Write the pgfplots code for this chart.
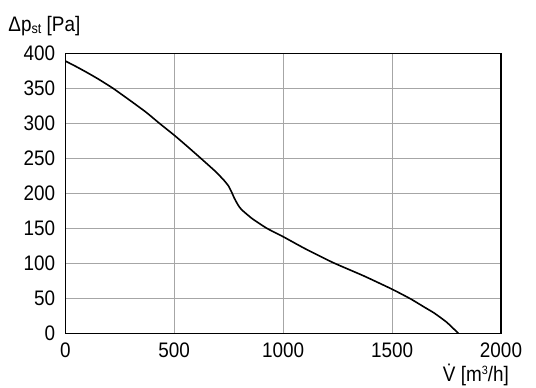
\documentclass[border=0pt]{standalone}
\usepackage{fontspec}
\setmainfont{Liberation Sans}[FakeStretch=0.9]
\usepackage{pgfplots}
\pgfplotsset{compat=1.18}
\begin{document}
\begin{tikzpicture}[font=\fontsize{21}{24}\selectfont]
\begin{axis}[
  scale only axis,
  width=435.7pt, height=280pt,
  xmin=0, xmax=2000, ymin=0, ymax=400,
  xtick={0,500,1000,1500,2000},
  ytick={0,50,100,150,200,250,300,350,400},
  major tick length=0pt,
  grid=major,
  major grid style={gray!70, line width=0.8pt},
  axis line style={black, line width=1.5pt},
  /pgf/number format/assume math mode=true,
  /pgf/number format/1000 sep={},
  ticklabel style={font=\fontsize{21}{24}\selectfont},
  xticklabel style={inner sep=0pt, anchor=north, yshift=-9pt},
  yticklabel style={inner sep=0pt, anchor=east, xshift=-10pt},
]
\addplot[black, line width=1.6pt, smooth, tension=0.3] coordinates {
(0,389) (50,381) (100,372.5) (150,363.5) (219,350) (300,332) (370,316) (432,300) (500,283) (560,267) (622,250)
(690,231) (730,218) (750,210) (766,200) (776,193) (788,186) (800,180) (815,175) (857,164)
(925,150) (1000,138) (1100,121) (1229,101) (1370,82) (1500,63) (1586,49)
(1650,37) (1693,29) (1750,16) (1804,0)
};
\end{axis}
\node[anchor=base west, inner sep=0pt] at ([shift={(-57pt,22pt)}]current axis.north west)
  {Δp{\fontsize{14}{14}\selectfont\raisebox{-2pt}{st}} [Pa]};
\node[anchor=base east, inner sep=0pt] at ([shift={(8pt,-48pt)}]current axis.south east)
  {\.{V} [m{\fontsize{12}{12}\selectfont\raisebox{7pt}{3}}/h]};
\path[use as bounding box] ([shift={(-65.3pt,-54.7pt)}]current axis.south west) rectangle ++(536pt,388pt);
\end{tikzpicture}
\end{document}
